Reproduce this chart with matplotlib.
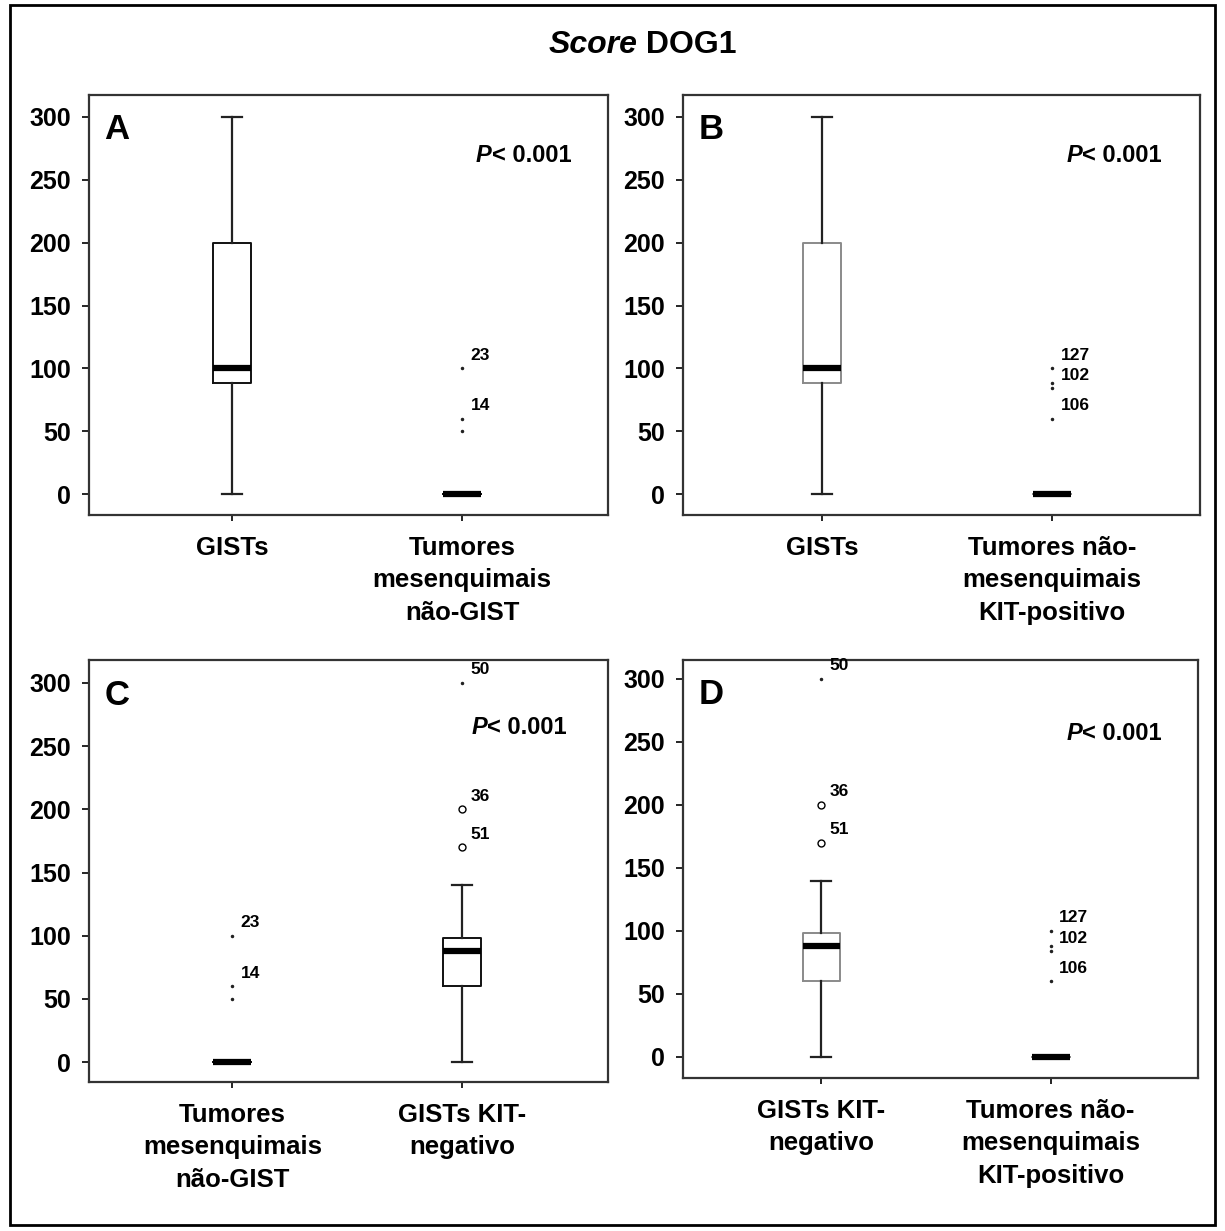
import matplotlib.pyplot as plt
from matplotlib.patches import Rectangle

plt.rcParams['font.family'] = ['Liberation Sans', 'DejaVu Sans']

# box summaries: whisker low, Q1, median, Q3, whisker high
gists = [0, 88, 100, 200, 300]
gists_kitneg = [0, 60, 88, 98, 140]
nao_gist = [0, 0, 0, 0, 0]
nao_mes_kitpos = [0, 0, 0, 0, 0]

# outliers (o) and extremes (*) with case numbers, as SPSS draws them
gists_out, gists_out_ids = [], []
gists_ext, gists_ext_ids = [], []
gists_kitneg_out = [200, 170]
gists_kitneg_out_ids = ['36', '51']
gists_kitneg_ext = [300]
gists_kitneg_ext_ids = ['50']
nao_gist_out, nao_gist_out_ids = [], []
nao_gist_ext = [100, 60, 50]
nao_gist_ext_ids = ['23', '14', '']
nao_mes_out, nao_mes_out_ids = [], []
nao_mes_ext = [100, 88, 84, 60]
nao_mes_ext_ids = ['127', '', '102', '106']

lab_gists = 'GISTs'
lab_kitneg = 'GISTs KIT-\nnegativo'
lab_nao_gist = 'Tumores\nmesenquimais\nnão-GIST'
lab_nao_mes = 'Tumores não-\nmesenquimais\nKIT-positivo'

y_ticks = [0, 50, 100, 150, 200, 250, 300]
p_text = '< 0.001'

groups = {
    'gists': (gists, gists_out, gists_out_ids, gists_ext, gists_ext_ids, lab_gists),
    'kitneg': (gists_kitneg, gists_kitneg_out, gists_kitneg_out_ids,
               gists_kitneg_ext, gists_kitneg_ext_ids, lab_kitneg),
    'nao_gist': (nao_gist, nao_gist_out, nao_gist_out_ids,
                 nao_gist_ext, nao_gist_ext_ids, lab_nao_gist),
    'nao_mes': (nao_mes_kitpos, nao_mes_out, nao_mes_out_ids,
                nao_mes_ext, nao_mes_ext_ids, lab_nao_mes),
}

W, H = 1225, 1231
fig = plt.figure(figsize=(W / 100, H / 100), dpi=100)


def px_rect(x0, y0, x1, y1):
    return [x0 / W, 1 - y1 / H, (x1 - x0) / W, (y1 - y0) / H]


# letter, groups, grey boxes, axes pixel box, ylim, xlim, P text spot (axes coords)
panels = [
    ('A', ['gists', 'nao_gist'], False, (89, 95, 608, 515), (-16.7, 317.5), (0.377, 2.634), (0.776, 0.857)),
    ('B', ['gists', 'nao_mes'], True, (683, 95, 1200, 515), (-16.7, 317.5), (0.396, 2.643), (0.772, 0.857)),
    ('C', ['nao_gist', 'kitneg'], False, (89, 660, 608, 1082), (-15.8, 318.2), (0.377, 2.634), (0.767, 0.839)),
    ('D', ['kitneg', 'nao_mes'], True, (683, 660, 1198, 1078), (-16.7, 315.0), (0.396, 2.643), (0.775, 0.825)),
]

for letter, names, grey, box, ylim, xlim, ppos in panels:
    ax = fig.add_axes(px_rect(*box))
    boxc = '#8a8a8a' if grey else '#111111'
    stats = []
    for n in names:
        lo, q1, med, q3, hi = groups[n][0]
        stats.append(dict(whislo=lo, q1=q1, med=med, q3=q3, whishi=hi, fliers=groups[n][1]))
    ax.bxp(stats, positions=[1, 2], widths=0.165, capwidths=0.087, showfliers=True,
           boxprops=dict(color=boxc, lw=1.4),
           whiskerprops=dict(color='#222222', lw=1.6),
           capprops=dict(color='#222222', lw=1.6),
           medianprops=dict(color='black', lw=4.5, solid_capstyle='butt'),
           flierprops=dict(marker='o', mfc='none', mec='black', ms=5, mew=1.0))

    for pos, n in zip([1, 2], names):
        _, out, out_ids, ext, ext_ids, _ = groups[n]
        ax.plot([pos] * len(ext), ext, ls='none', marker='.', ms=3, color='#222222')
        for v, lab in list(zip(out, out_ids)) + list(zip(ext, ext_ids)):
            if lab:
                ax.annotate(lab, (pos, v), xytext=(6, 4), textcoords='offset points',
                            fontsize=12.5, fontweight='bold', ha='left', va='bottom')

    ax.set_xlim(*xlim)
    ax.set_ylim(*ylim)
    ax.set_yticks(y_ticks)
    ax.set_yticklabels([str(t) for t in y_ticks], fontsize=18, fontweight='bold')
    ax.set_xticks([1, 2])
    ax.set_xticklabels([groups[n][5] for n in names], fontsize=18.5, fontweight='bold',
                       linespacing=1.45)
    ax.tick_params(axis='y', length=5, width=1.2, pad=8)
    ax.tick_params(axis='x', length=4, width=1.2, pad=11)
    for s in ax.spines.values():
        s.set_linewidth(1.6)
        s.set_color('#333333')

    ax.text(0.03, 0.917, letter, transform=ax.transAxes, fontsize=25,
            fontweight='bold', ha='left', va='center')
    ax.text(ppos[0], ppos[1], 'P', transform=ax.transAxes, fontsize=17,
            fontweight='bold', fontstyle='italic', ha='right', va='center')
    ax.text(ppos[0], ppos[1], p_text, transform=ax.transAxes, fontsize=17,
            fontweight='bold', ha='left', va='center')

fig.text(0.52, 1 - 45 / H, 'Score', fontsize=23, fontweight='bold',
         fontstyle='italic', ha='right', va='center')
fig.text(0.52, 1 - 45 / H, ' DOG1', fontsize=23, fontweight='bold',
         ha='left', va='center')

fig.patches.append(Rectangle((10 / W, 1 - 1225 / H), 1205 / W, 1220 / H,
                             transform=fig.transFigure, fill=False,
                             lw=2, ec='black'))

fig.savefig('out.png', dpi=100)
